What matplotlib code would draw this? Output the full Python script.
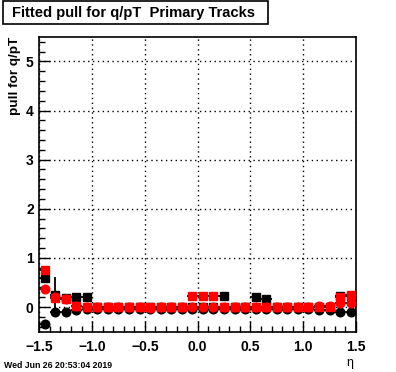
import matplotlib
matplotlib.use("Agg")
import matplotlib.pyplot as plt
import numpy as np
from matplotlib.ticker import MultipleLocator
from matplotlib.patches import Rectangle

plt.rcParams['font.family'] = ['Liberation Sans', 'DejaVu Sans']

eta = [-1.45, -1.35, -1.25, -1.15, -1.05, -0.95, -0.85, -0.75, -0.65, -0.55,
       -0.45, -0.35, -0.25, -0.15, -0.05, 0.05, 0.15, 0.25, 0.35, 0.45,
       0.55, 0.65, 0.75, 0.85, 0.95, 1.05, 1.15, 1.25, 1.35, 1.45]

black_sq = [0.60, 0.24, 0.19, 0.21, 0.21, 0.00, 0.00, 0.00, 0.00, 0.01,
            0.00, 0.00, 0.00, 0.00, 0.00, 0.00, 0.00, 0.22, 0.00, 0.00,
            0.20, 0.17, 0.00, 0.00, 0.00, 0.00, 0.00, 0.00, 0.22, 0.22]
black_sq_err = [0.03, 0.37, 0.03, 0.02, 0.02, 0.01, 0.01, 0.01, 0.01, 0.01,
                0.01, 0.01, 0.01, 0.01, 0.01, 0.01, 0.01, 0.01, 0.01, 0.01,
                0.01, 0.01, 0.01, 0.01, 0.01, 0.01, 0.01, 0.01, 0.03, 0.05]

black_ci = [-0.35, -0.11, -0.11, -0.06, -0.05, -0.04, -0.04, -0.03, -0.05, -0.04,
            -0.03, -0.05, -0.04, -0.03, -0.04, -0.04, -0.03, -0.04, -0.03, -0.04,
            -0.03, -0.04, -0.03, -0.04, -0.05, -0.04, -0.07, -0.07, -0.10, -0.11]

red_sq = [0.75, 0.18, 0.16, 0.02, 0.01, 0.00, 0.00, 0.00, 0.00, 0.00,
          0.00, 0.00, 0.00, 0.00, 0.22, 0.22, 0.22, 0.00, 0.00, 0.00,
          0.00, 0.00, 0.00, 0.00, 0.00, 0.00, 0.00, 0.00, 0.20, 0.24]

red_ci = [0.36, 0.20, 0.17, 0.03, 0.01, 0.01, 0.00, 0.01, 0.00, 0.00,
          -0.01, 0.01, 0.00, 0.00, 0.00, 0.00, 0.01, 0.00, 0.00, 0.01,
          0.00, 0.00, 0.01, 0.00, 0.01, 0.00, 0.02, 0.02, 0.08, 0.09]

title = "Fitted pull for q/pT  Primary Tracks"
ylabel = "pull for q/pT"
xlabel = "η"
datestr = "Wed Jun 26 20:53:04 2019"

fig = plt.figure(figsize=(3.96, 3.72), dpi=100)
ax = fig.add_axes([0.0992, 0.1086, 0.7997, 0.7924])

xe = 0.05
kw = dict(xerr=xe, ecolor='black', elinewidth=1.3, capsize=0, linestyle='none')
ax.errorbar(eta, black_sq, yerr=black_sq_err, fmt='s', color='black', ms=5.4, **kw, zorder=3)
ax.errorbar(eta, black_ci, yerr=0.01, fmt='o', color='black', ms=6.2, **kw, zorder=3)
ax.errorbar(eta, red_sq, yerr=0.01, fmt='s', color='red', ms=5.4, **kw, zorder=4)
ax.errorbar(eta, red_ci, yerr=0.01, fmt='o', color='red', ms=6.2, **kw, zorder=4)

ax.set_xlim(-1.5, 1.5)
ax.set_ylim(-0.5, 5.5)
ax.xaxis.set_major_locator(MultipleLocator(0.5))
ax.xaxis.set_minor_locator(MultipleLocator(0.1))
ax.yaxis.set_major_locator(MultipleLocator(1))
ax.yaxis.set_minor_locator(MultipleLocator(0.2))
ax.tick_params(which='both', direction='in', top=False, right=False, width=1)
ax.tick_params(which='major', length=8)
ax.tick_params(which='minor', length=4)
ax.tick_params(axis='x', which='major', pad=6)
ax.tick_params(axis='y', which='major', pad=4)
for lab in ax.get_xticklabels() + ax.get_yticklabels():
    lab.set_fontweight('bold')
    lab.set_fontsize(10)
ax.grid(True, which='major', linestyle=(0, (1, 2.5)), color='black', linewidth=1)
for s in ax.spines.values():
    s.set_linewidth(1.2)

fig.text(15 / 396, 1 - 37 / 372, ylabel, rotation=90, ha='center', va='top',
         fontsize=9.7, fontweight='bold')
fig.text(350 / 396, 1 - 363 / 372, xlabel, ha='center', va='center', fontsize=9)
fig.text(4 / 396, 1 - 365 / 372, datestr, ha='left', va='center', fontsize=6.3, fontweight='bold')

fig.text(12 / 396, 1 - 12.5 / 372, title, ha='left', va='center', fontsize=10.6,
         fontweight='bold')
fig.patches.append(Rectangle((3 / 396, 1 - 24 / 372), 265 / 396, 23 / 372,
                             transform=fig.transFigure, fill=False, edgecolor='black',
                             linewidth=1.2))

fig.savefig("out.png", dpi=100)
